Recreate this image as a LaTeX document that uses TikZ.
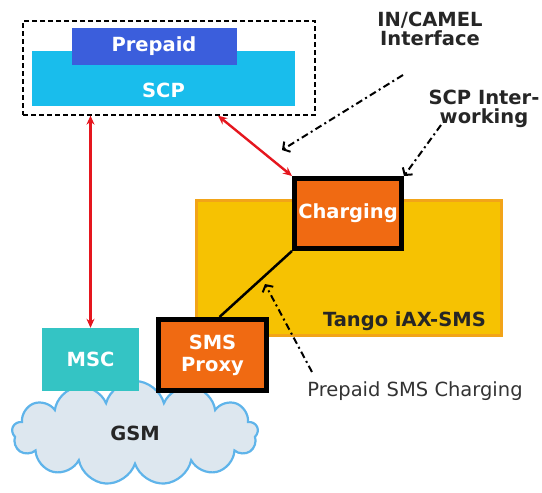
\documentclass[tikz,border=0pt]{standalone}
\usepackage{fontspec}
\setmainfont{DejaVu Sans}
\usetikzlibrary{shapes.symbols, arrows.meta}

\definecolor{prepaidblue}{HTML}{3B5EDC}
\definecolor{scpcyan}{HTML}{19BDEC}
\definecolor{chargeorange}{HTML}{F06A12}
\definecolor{tangogold}{HTML}{F6C202}
\definecolor{tangoedge}{HTML}{F2A418}
\definecolor{mscteal}{HTML}{34C4C4}
\definecolor{linkred}{HTML}{E5161E}
\definecolor{cloudfill}{HTML}{DDE7EF}
\definecolor{cloudedge}{HTML}{5FB4EA}

\begin{document}
\begin{tikzpicture}[
  x=1pt, y=-1pt,
  every node/.style={
    align=center,
    inner sep=0pt,
    font=\fontsize{19.5}{19}\selectfont\bfseries
  },
  flatbox/.style={text=white},
  hotbox/.style={fill=chargeorange, draw=black, line width=5pt, text=white},
  redlink/.style={{Stealth[length=9pt,width=8pt]}-{Stealth[length=9pt,width=8pt]}, linkred, line width=2.4pt},
  remark/.style={-{Straight Barb[length=5pt,width=12pt]}, line width=2pt, dash pattern=on 7pt off 3.5pt on 2pt off 3.5pt}
]
\useasboundingbox (0,0) rectangle (542,493);

\node[fill=tangogold, draw=tangoedge, line width=3pt, minimum width=305pt, minimum height=135pt] (tango) at (349,268) {};
\node[anchor=south east, text=black!85] (tangolabel) at ([xshift=-17pt,yshift=6pt]tango.south east) {Tango iAX-SMS};

\node[cloud, cloud puffs=13, aspect=2.4, fill=cloudfill, draw=cloudedge, line width=2.2pt, minimum width=246pt, minimum height=104pt, text=black!85] (gsm) at (135,433) {GSM};

\node[flatbox, fill=mscteal, minimum width=97pt, minimum height=63pt] (msc) at (90.5,359.5) {MSC};
\node[hotbox, minimum width=108pt, minimum height=71pt, font=\fontsize{19.5}{22}\selectfont\bfseries] (smsproxy) at (212.5,355) {SMS\\Proxy};
\node[hotbox, minimum width=107pt, minimum height=70pt] (charging) at (348,213.5) {Charging};

\node[flatbox, fill=scpcyan, minimum width=263pt, minimum height=55pt,
  label={[text=white, yshift=-12pt]center:SCP}] (scp) at (163.5,78.5) {};
\node[flatbox, fill=prepaidblue, minimum width=165pt, minimum height=37pt] (prepaid) at (154,46.5) {Prepaid};
\node[draw, line width=1.3pt, dash pattern=on 5pt off 3pt, minimum width=292pt, minimum height=94pt] (scpgroup) at (169,68) {};

\draw[line width=2.5pt] (charging.south west) -- ([xshift=7pt]smsproxy.north);

\draw[redlink] (msc.north) -- (msc.north |- scpgroup.south);
\draw[redlink] ([xshift=49pt]scpgroup.south) -- (charging.north west);

\node[text=black!85] (incamel) at (430,29) {IN/CAMEL\\Interface};
\node[text=black!85, font=\fontsize{19.5}{19}\selectfont\bfseries] (scpinter) at (484,109) {SCP Inter-\\working};
\node[text=black!80, font=\fontsize{19.5}{19}\selectfont] (psc) at (415,391) {Prepaid SMS Charging};

\coordinate (incamelfrom) at (403,75);
\coordinate (incamelto) at (282,150);
\coordinate (scpinterfrom) at (441,125);
\coordinate (pscfrom) at (312,372);
\coordinate (pscto) at (265,284);

\draw[remark] (incamelfrom) -- (incamelto);
\draw[remark] (scpinterfrom) -- (charging.north east);
\draw[remark] (pscfrom) -- (pscto);
\end{tikzpicture}
\end{document}
